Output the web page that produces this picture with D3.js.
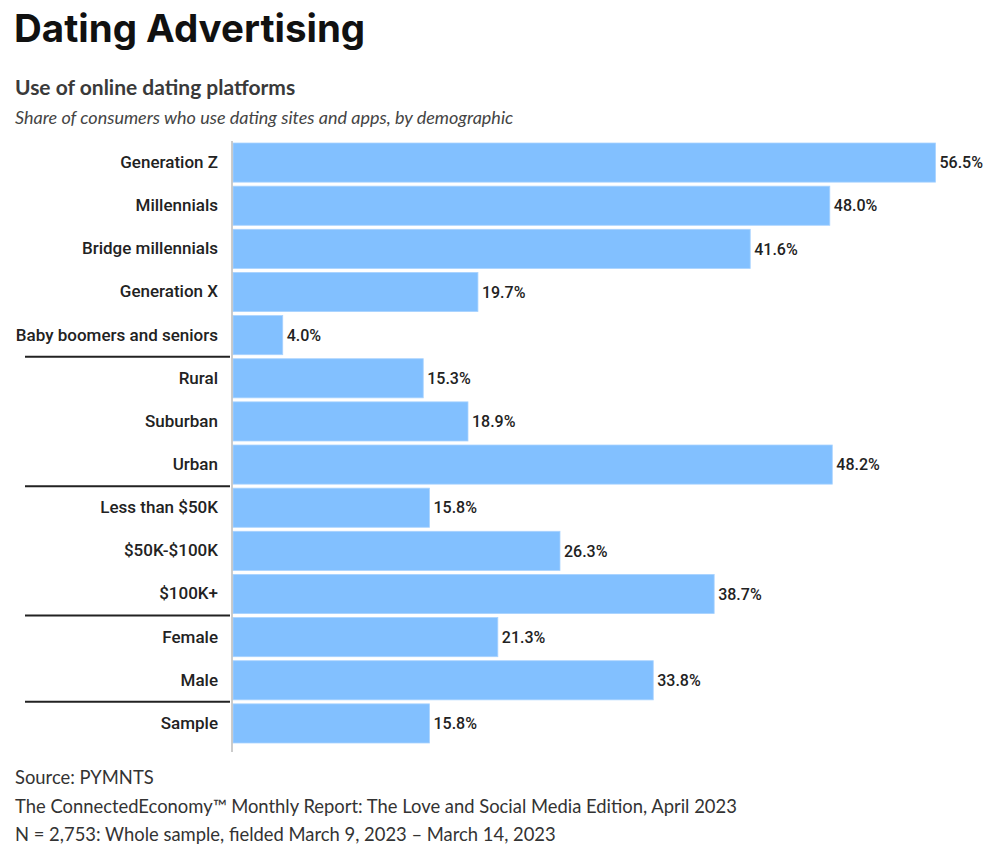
<!DOCTYPE html>
<html><head><meta charset="utf-8">
<script src="https://cdn.jsdelivr.net/npm/d3@7"></script>
<style>
body{margin:0;background:#fff;}
svg{display:block;}
</style></head>
<body><svg id="c" width="991" height="851"></svg>
<script>
const categories = ["Generation Z","Millennials","Bridge millennials","Generation X","Baby boomers and seniors","Rural","Suburban","Urban","Less than $50K","$50K-$100K","$100K+","Female","Male","Sample"];
const values = [56.5,48.0,41.6,19.7,4.0,15.3,18.9,48.2,15.8,26.3,38.7,21.3,33.8,15.8];
const groupEnds = ["Baby boomers and seniors","Urban","$100K+","Male"];
const title = "Dating Advertising";
const subtitle = "Use of online dating platforms";
const subtitle2 = "Share of consumers who use dating sites and apps, by demographic";
const footer = ["Source: PYMNTS","The ConnectedEconomy\u2122 Monthly Report: The Love and Social Media Edition, April 2023","N = 2,753: Whole sample, fielded March 9, 2023 \u2013 March 14, 2023"];

const svg = d3.select("#c");
svg.append("text").attr("x",14).attr("y",42).text(title)
  .attr("font-family","Inter, Roboto, sans-serif").attr("font-weight",700).attr("font-size",38.5).attr("fill","#111");
svg.append("text").attr("x",15).attr("y",95).text(subtitle)
  .attr("font-family","Lato, sans-serif").attr("font-weight",700).attr("font-size",21).attr("fill","#3a3a3a");
svg.append("text").attr("x",15).attr("y",124).text(subtitle2)
  .attr("font-family","Lato, sans-serif").attr("font-style","italic").attr("font-size",18).attr("fill","#444");

const y = d3.scaleBand().domain(categories).range([141,745]).paddingInner(0.093).paddingOuter(0.0465);
const x = d3.scaleLinear().domain([0,60]).range([233,979]);

const data = categories.map((c,i)=>({c, v:values[i]}));

svg.append("g").selectAll("rect").data(data).join("rect")
  .attr("x",x(0)).attr("y",d=>y(d.c)).attr("width",d=>x(d.v)-x(0)).attr("height",y.bandwidth())
  .attr("fill","#82c0ff").attr("stroke","#a9d3ff").attr("stroke-width",0.8);

svg.append("g").selectAll("text").data(data).join("text")
  .attr("x",d=>x(d.v)+4).attr("y",d=>y(d.c)+y.bandwidth()/2).attr("dy","0.36em")
  .text(d=>d.v.toFixed(1)+"%")
  .attr("font-family","Roboto, sans-serif").attr("font-weight",500).attr("font-size",16).attr("fill","#222");

const yAxis = d3.axisLeft(y).tickSize(0).tickPadding(14);
const ag = svg.append("g").attr("transform",`translate(${x(0)-1},0)`).call(yAxis);
ag.select(".domain").remove();
ag.selectAll("text").attr("font-family","Roboto, sans-serif").attr("font-weight",500).attr("font-size",17).attr("fill","#222");
svg.append("line").attr("x1",x(0)-1).attr("x2",x(0)-1).attr("y1",141).attr("y2",752).attr("stroke","#bbb").attr("stroke-width",1.5);

const step = y.step();
svg.append("g").selectAll("line").data(groupEnds).join("line")
  .attr("x1",25).attr("x2",230)
  .attr("y1",d=>y(d)+y.bandwidth()+(step-y.bandwidth())/2).attr("y2",d=>y(d)+y.bandwidth()+(step-y.bandwidth())/2)
  .attr("stroke","#222").attr("stroke-width",2);

svg.append("g").selectAll("text").data(footer).join("text")
  .attr("x",15).attr("y",(d,i)=>784+i*28.5).text(d=>d)
  .attr("font-family","Lato, sans-serif").attr("font-size",18.4).attr("fill","#333");
</script></body></html>
